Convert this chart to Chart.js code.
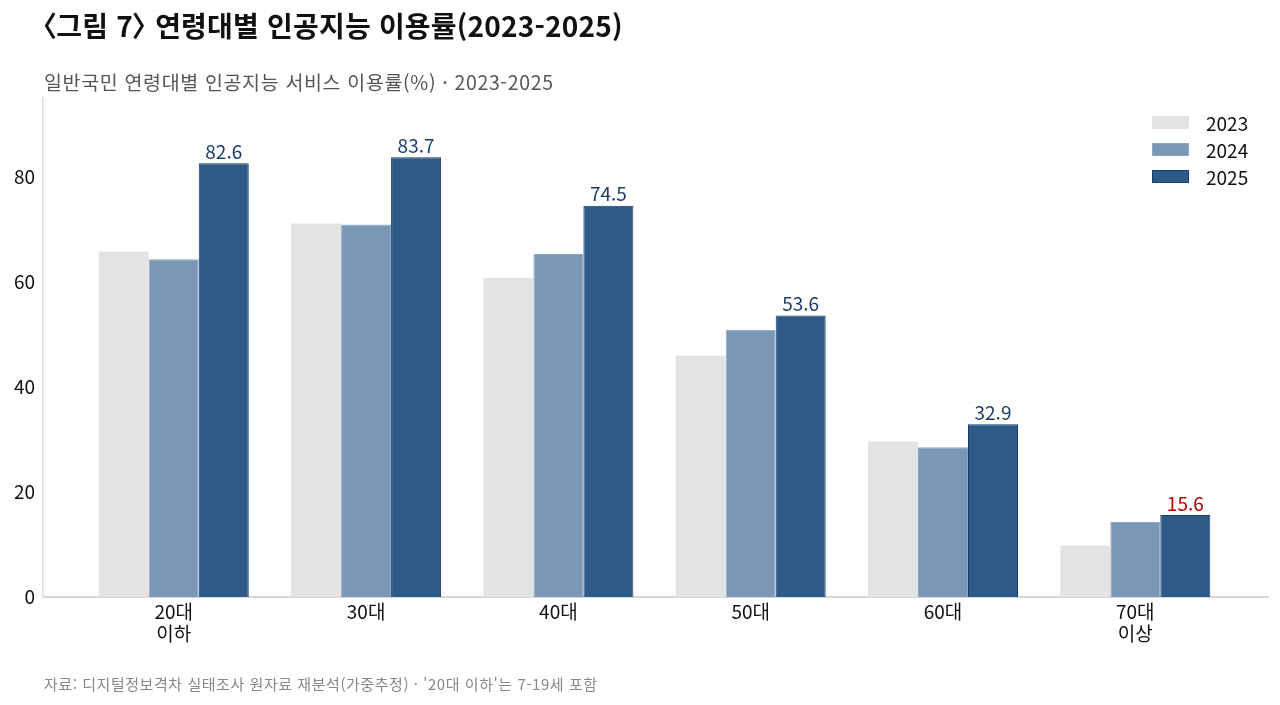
<!DOCTYPE html>
<html lang="ko">
<head>
<meta charset="utf-8">
<script src="https://cdn.jsdelivr.net/npm/chart.js@4"></script>
<style>
  html, body { margin: 0; padding: 0; background: #fff; }
  body { width: 1280px; height: 705px; position: relative; overflow: hidden;
         font-family: "Noto Sans CJK KR", "Noto Sans", sans-serif; }
  #wrap { position: absolute; left: 0; top: 0; width: 1280px; height: 705px; }
  .title { position: absolute; left: 42px; top: 5px; font-size: 28px; font-weight: 700; color: #111; letter-spacing: 0.2px; }
  .title .br { font-feature-settings: "palt"; }
  .sub { position: absolute; left: 44px; top: 67px; font-size: 19.5px; color: #555; letter-spacing: 0.65px; }
  .note { position: absolute; left: 44px; top: 673px; font-size: 15px; color: #888; letter-spacing: 0.55px; }
  #legend { position: absolute; left: 1152px; top: 109px; }
  .lg { display: flex; align-items: center; height: 27px; font-size: 19px; color: #111; }
  .lg span.box { display: inline-block; width: 37px; height: 13px; margin-right: 17px; box-sizing: border-box; }
</style>
</head>
<body>
<div id="wrap"><canvas id="ageChart"></canvas></div>
<div class="title"><span class="br">〈</span>그림 7<span class="br">〉</span> 연령대별 인공지능 이용률(2023-2025)</div>
<div class="sub">일반국민 연령대별 인공지능 서비스 이용률(%) · 2023-2025</div>
<div class="note">자료: 디지털정보격차 실태조사 원자료 재분석(가중추정) · '20대 이하'는 7-19세 포함</div>
<div id="legend"></div>
<script>
// 연령대 / 연도별 이용률
const categories = [['20대', '이하'], '30대', '40대', '50대', '60대', ['70대', '이상']];
const years = ['2023', '2024', '2025'];
const values2023 = [65.8, 71.1, 60.8, 46.0, 29.6, 9.8];
const values2024 = [64.3, 70.9, 65.3, 50.9, 28.5, 14.3];
const values2025 = [82.6, 83.7, 74.5, 53.6, 32.9, 15.6];
const yTicks = [0, 20, 40, 60, 80];

const fills = ['#e3e3e3', '#7a97b5', '#2e5a87'];
const borders = ['#e3e3e3', '#8da6c1', '#183f6b'];
const fontFamily = '"Noto Sans CJK KR", "Noto Sans", sans-serif';

// 범례 (HTML)
const legendElem = document.getElementById('legend');
years.forEach((y, i) => {
    const row = document.createElement('div');
    row.className = 'lg';
    row.innerHTML = '<span class="box" style="background:' + fills[i] + ';border:1px solid ' + borders[i] + '"></span>' + y;
    legendElem.appendChild(row);
});

const toPoints = arr => arr.map((v, i) => ({ x: i, y: v }));

// 2025 막대 위 수치 표시
const valueLabels = {
    id: 'valueLabels',
    afterDatasetsDraw(chart) {
        const ctx = chart.ctx;
        const meta = chart.getDatasetMeta(2);
        ctx.save();
        ctx.font = '19px ' + fontFamily;
        ctx.textAlign = 'center';
        ctx.textBaseline = 'bottom';
        meta.data.forEach((bar, i) => {
            ctx.fillStyle = i === values2025.length - 1 ? '#b00000' : '#1c3c66';
            ctx.fillText(values2025[i].toFixed(1), bar.x, bar.y - 2);
        });
        ctx.restore();
    }
};

const ctx = document.getElementById('ageChart').getContext('2d');
const ageChart = new Chart(ctx, {
    type: 'bar',
    data: {
        datasets: [values2023, values2024, values2025].map((vals, i) => ({
            label: years[i],
            data: toPoints(vals),
            backgroundColor: fills[i],
            borderColor: borders[i],
            borderWidth: i === 0 ? 0 : 1,
            categoryPercentage: 0.78,
            barPercentage: 1.0
        }))
    },
    options: {
        responsive: true,
        maintainAspectRatio: false,
        animation: false,
        layout: { padding: { top: 98, right: 12, bottom: 0, left: 0 } },
        plugins: {
            legend: { display: false },
            title: { display: false },
            tooltip: { enabled: false }
        },
        scales: {
            x: {
                type: 'linear',
                offset: false,
                min: -0.68,
                max: 5.69,
                grid: { display: false, drawTicks: false, offset: false },
                border: { display: true, color: '#d6d6d6', width: 2 },
                afterBuildTicks: scale => { scale.ticks = categories.map((c, i) => ({ value: i })); },
                afterFit: scale => { scale.height = 108; },
                ticks: {
                    padding: 3,
                    color: '#111',
                    font: { size: 19, family: fontFamily, lineHeight: 1.2 },
                    maxRotation: 0,
                    autoSkip: false,
                    callback: v => categories[v]
                }
            },
            y: {
                min: 0,
                max: 95,
                grid: { display: false, drawTicks: false },
                border: { display: true, color: '#dddddd', width: 1.5 },
                afterBuildTicks: scale => { scale.ticks = yTicks.map(v => ({ value: v })); },
                afterFit: scale => { scale.width = 43; },
                ticks: {
                    padding: 8,
                    color: '#111',
                    font: { size: 19, family: fontFamily }
                }
            }
        }
    },
    plugins: [valueLabels]
});
</script>
</body>
</html>
